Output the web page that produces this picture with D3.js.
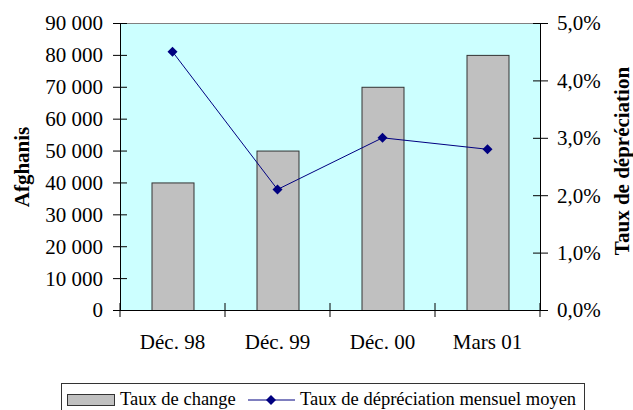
<!DOCTYPE html>
<html><head><meta charset="utf-8">
<script src="https://cdn.jsdelivr.net/npm/d3@7"></script>
<style>body{margin:0;background:#fff;} svg{display:block;}</style>
</head><body>
<svg id="c" width="633" height="410"></svg>
<script>
const categories = ["Déc. 98", "Déc. 99", "Déc. 00", "Mars 01"];
const exchangeRate = [40000, 50000, 70000, 80000];
const depreciation = [0.045, 0.021, 0.030, 0.028];
const leftTicks = [0, 10000, 20000, 30000, 40000, 50000, 60000, 70000, 80000, 90000];
const leftTickLabels = ["0", "10 000", "20 000", "30 000", "40 000", "50 000", "60 000", "70 000", "80 000", "90 000"];
const rightTicks = [0, 0.01, 0.02, 0.03, 0.04, 0.05];
const rightTickLabels = ["0,0%", "1,0%", "2,0%", "3,0%", "4,0%", "5,0%"];
const legendLabels = ["Taux de change", "Taux de dépréciation mensuel moyen"];
const leftTitle = "Afghanis";
const rightTitle = "Taux de dépréciation";

const svg = d3.select("#c");
const L = 120, R = 540, T = 23, B = 310;
const font = "'Liberation Serif','Times New Roman',serif";

const x = d3.scaleBand().domain(categories).range([L, R]).padding(0);
const yL = d3.scaleLinear().domain([0, 90000]).range([B, T]);
const yR = d3.scaleLinear().domain([0, 0.05]).range([B, T]);

// plot background
svg.append("rect").attr("x", L).attr("y", T).attr("width", R - L).attr("height", B - T).attr("fill", "#CCFFFF");
svg.append("line").attr("x1", L).attr("x2", R).attr("y1", T + 0.5).attr("y2", T + 0.5).attr("stroke", "#808080");

// bars
const bw = x.bandwidth() * 0.4;
svg.selectAll("rect.bar").data(categories).enter().append("rect").attr("class", "bar")
  .attr("x", d => x(d) + (x.bandwidth() - bw) / 2 + 0.5)
  .attr("y", (d, i) => yL(exchangeRate[i]) + 0.5)
  .attr("width", bw)
  .attr("height", (d, i) => B - yL(exchangeRate[i]))
  .attr("fill", "#C0C0C0").attr("stroke", "#333").attr("stroke-width", 1);

// axes
const gl = svg.append("g").attr("transform", `translate(${L},0)`)
  .call(d3.axisLeft(yL).tickValues(leftTicks).tickFormat((d, i) => leftTickLabels[i]).tickSizeInner(7).tickSizeOuter(0).tickPadding(10));
gl.selectAll(".tick line").attr("x1", 7);
const gr = svg.append("g").attr("transform", `translate(${R},0)`)
  .call(d3.axisRight(yR).tickValues(rightTicks).tickFormat((d, i) => rightTickLabels[i]).tickSizeInner(8).tickSizeOuter(0).tickPadding(9));
gr.selectAll(".tick line").attr("x1", -7);
const gb = svg.append("g").attr("transform", `translate(0,${B})`)
  .call(d3.axisBottom(x).tickSize(0).tickPadding(24));
gb.select(".domain").attr("d", `M${L},0.5H${R}`);
// category boundary ticks
const bounds = categories.map(c => x(c)).concat([R]);
svg.selectAll("line.xt").data(bounds).enter().append("line").attr("class", "xt")
  .attr("x1", d => d).attr("x2", d => d).attr("y1", B - 7).attr("y2", B + 7).attr("stroke", "#000");

[gl, gr, gb].forEach(g => {
  g.attr("font-family", font).attr("font-size", 21);
  g.selectAll("text").attr("font-family", font).attr("font-size", 21).attr("fill", "#000");
  g.selectAll(".domain").attr("stroke", "#000");
  g.selectAll(".tick line").attr("stroke", "#000");
});
gl.selectAll("text").attr("dy", "0.33em");
gr.selectAll("text").attr("dy", "0.33em");

// line series
const line = d3.line().x((d, i) => x(categories[i]) + x.bandwidth() / 2).y(d => yR(d));
svg.append("path").datum(depreciation).attr("d", line).attr("fill", "none").attr("stroke", "#000080").attr("stroke-width", 1);
const diamond = d3.symbol().type(d3.symbolDiamond2).size(64);
svg.selectAll("path.pt").data(depreciation).enter().append("path").attr("class", "pt")
  .attr("transform", (d, i) => `translate(${x(categories[i]) + x.bandwidth() / 2},${yR(d)})`)
  .attr("d", diamond).attr("fill", "#000080");

// axis titles
svg.append("text").attr("transform", "translate(29,167) rotate(-90)").attr("text-anchor", "middle")
  .attr("font-family", font).attr("font-weight", "bold").attr("font-size", 21).text(leftTitle);
svg.append("text").attr("transform", "translate(629,161) rotate(-90)").attr("text-anchor", "middle")
  .attr("font-family", font).attr("font-weight", "bold").attr("font-size", 21).text(rightTitle);

// legend
const lg = svg.append("g");
lg.append("rect").attr("x", 61.5).attr("y", 383.5).attr("width", 523).attr("height", 40).attr("fill", "#fff").attr("stroke", "#333");
lg.append("rect").attr("x", 67.5).attr("y", 394.5).attr("width", 47).attr("height", 11).attr("fill", "#C0C0C0").attr("stroke", "#333");
lg.append("text").attr("x", 120).attr("y", 405).attr("font-family", font).attr("font-size", 18.5).text(legendLabels[0]);
lg.append("line").attr("x1", 248).attr("x2", 295).attr("y1", 400).attr("y2", 400).attr("stroke", "#000080");
lg.append("path").attr("transform", "translate(271,400)").attr("d", diamond).attr("fill", "#000080");
lg.append("text").attr("x", 300).attr("y", 405).attr("font-family", font).attr("font-size", 18.5).text(legendLabels[1]);
</script>
</body></html>
